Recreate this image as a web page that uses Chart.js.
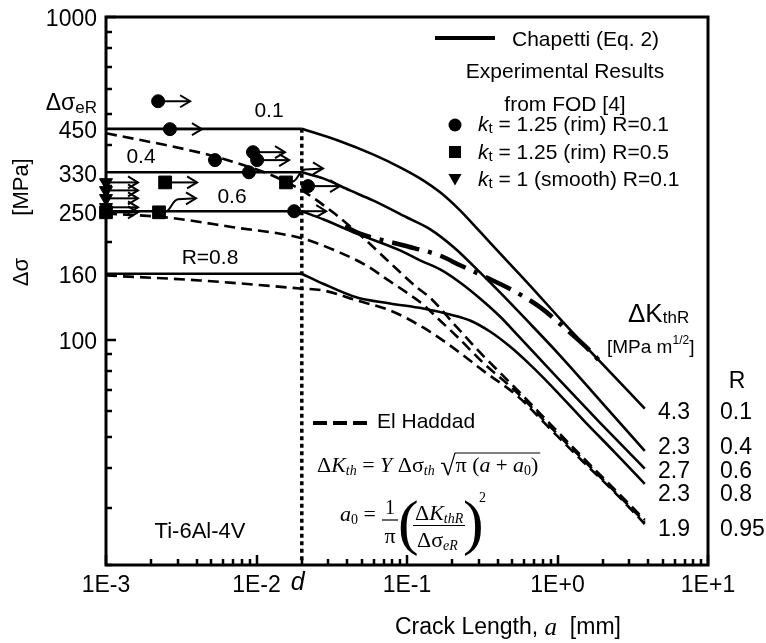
<!DOCTYPE html>
<html>
<head>
<meta charset="utf-8">
<title>Ti-6Al-4V threshold stress vs crack length</title>
<script src="https://cdn.jsdelivr.net/npm/chart.js@4.4.1/dist/chart.umd.min.js"></script>
<style>
html,body{margin:0;padding:0;background:#ffffff;}
#box{position:relative;width:766px;height:643px;}
canvas{display:block;}
</style>
</head>
<body>
<div id="box"><canvas id="chart" width="766" height="643"></canvas></div>
<script>
// ---------------- axes ----------------
const xMin = 0.001, xMax = 10;
const yMin = 20, yMax = 1000;
const xTickValues = [0.001, 0.01, 0.1, 1, 10];
const xTickLabels = ['1E-3', '1E-2', '1E-1', '1E+0', '1E+1'];
const dValue = 0.02;
const dLabel = 'd';
const yTickValues = [1000, 450, 330, 250, 160, 100];
const yTickLabels = ['1000', '450', '330', '250', '160', '100'];
const yEndurancePos = 540;      // where the ΔσeR label sits on the stress axis

// ---------------- Chapetti (Eq. 2), solid ----------------
const chapettiR01 = [[0.001,450],[0.02,450],[0.0359,412],[0.0594,375],[0.0899,342],[0.122,316],[0.166,286],[0.225,251.5],[0.3055,216],[0.415,185],[0.657,147],[1.04,116],[1.92,85.4],[3.8,61.1]];
const chapettiR04 = [[0.001,330],[0.02,330],[0.0277,316],[0.0418,290],[0.0594,270],[0.1,239],[0.142,220],[0.208,192],[0.3055,161.5],[0.415,140],[0.627,114.6],[1.04,89.2],[1.92,64.7],[3.8,45.2]];
const chapettiR06 = [[0.001,250],[0.02,250],[0.0277,236],[0.0465,213],[0.0899,189],[0.122,176],[0.166,165],[0.225,150.3],[0.3055,134.1],[0.415,117.9],[0.563,101.4],[1.04,74.6],[1.92,55.2],[3.8,39.8]];
const chapettiR08 = [[0.001,160],[0.02,160],[0.0277,149],[0.0465,135],[0.0771,129.4],[0.128,124.8],[0.193,119.6],[0.2622,114.6],[0.356,105.9],[0.4835,95.1],[0.657,83.6],[0.892,72.5],[1.48,56.4],[2.41,44.6],[3.8,35.7]];

// ---------------- El Haddad, dashed ----------------
const elHaddadR01 = [[0.001,436],[0.00254,400],[0.00491,373],[0.00777,350],[0.0117,328],[0.02,290],[0.0322,248],[0.051,207],[0.0771,173],[0.1165,145],[0.142,135],[0.215,109],[0.32,89.2],[0.538,69.9],[0.892,54.8],[1.48,43.0],[2.49,33.7],[3.8,27.6]];
const elHaddadR06 = [[0.001,246],[0.00254,239],[0.00698,223],[0.02,206],[0.0359,186],[0.0551,168.5],[0.0736,153.6],[0.097,141],[0.1277,128.5],[0.1657,114.6],[0.2149,102.2],[0.32,84.8],[0.538,68.5],[0.892,53.7],[1.48,42.4],[2.49,33.2],[3.8,27.2]];
const elHaddadR08 = [[0.001,158],[0.00421,152.5],[0.0195,144],[0.0277,142],[0.0465,132.2],[0.0771,123.1],[0.128,109],[0.215,92.4],[0.32,80.1],[0.538,67.0],[0.892,52.9],[1.48,41.8],[2.49,33.0],[3.8,26.8]];

// ---------------- dash-dot curve ----------------
const dashDotLine = [[0.0387,224],[0.0487,213],[0.094,196],[0.166,182],[0.225,170],[0.335,156],[0.506,142],[0.765,126],[1.07,110.5],[1.64,92.4],[1.92,85.4]];

// ---------------- d marker line ----------------
const dLine = [[0.02,450],[0.02,20]];

// ---------------- experimental results (run-outs) ----------------
const circlePts   = [[0.00222,548],[0.00266,449],[0.0053,360],[0.00948,381],[0.0101,360],[0.00891,330],[0.022,299],[0.0178,250]];
const circleArrow = [1,1,0,1,1,0,1,1];
const squarePts   = [[0.00247,307],[0.00225,248],[0.0157,307],[0.001,248]];
const squareArrow = [1,2,2,1];
const trianglePts = [[0.001,307],[0.001,290],[0.001,274],[0.001,257]];
const triangleArrow = [1,1,1,1];

// ---------------- labels ----------------
const curveLabels = ['0.1','0.4','0.6','R=0.8'];
const deltaKthR = ['4.3','2.3','2.7','2.3','1.9'];
const rValues = ['0.1','0.4','0.6','0.8','0.95'];

// ====================================================
const SANS = '"Liberation Sans", Arial, Helvetica, sans-serif';
const SERIF = '"Liberation Serif", "Times New Roman", serif';
const fs = (s, st) => (st ? st + ' ' : '') + s + 'px ' + SANS;
const fr = (s, st) => (st ? st + ' ' : '') + s + 'px ' + SERIF;
const BLACK = '#000000';
const pts = arr => arr.map(p => ({x: p[0], y: p[1]}));

function lineDs(label, arr, opts) {
  return Object.assign({
    label, data: pts(arr), showLine: true, borderColor: BLACK, borderWidth: 2.6,
    pointRadius: 0, pointHoverRadius: 0, fill: false, tension: 0,
    cubicInterpolationMode: 'monotone', borderCapStyle: 'butt'
  }, opts || {});
}
// Chapetti curves: flat plateau up to d (straight), then a smooth decay starting with a kink at d
function chapettiDs(label, arr) {
  return [
    lineDs(label + ' plateau', arr.slice(0, 2), {cubicInterpolationMode: 'default'}),
    lineDs(label, arr.slice(1))
  ];
}
function markDs(label, arr, style, radius, rot) {
  return {
    label, data: pts(arr), showLine: false, pointStyle: style, pointRadius: radius,
    pointHoverRadius: radius, pointRotation: rot || 0, pointBackgroundColor: BLACK,
    pointBorderColor: BLACK, pointBorderWidth: 1, clip: false
  };
}

function partsWidth(ctx, parts) {
  let w = 0;
  for (const p of parts) { ctx.font = p.f; w += ctx.measureText(p.t).width; }
  return w;
}
function drawParts(ctx, x, y, parts, align) {
  const w = partsWidth(ctx, parts);
  let cx = align === 'center' ? x - w / 2 : (align === 'right' ? x - w : x);
  ctx.textAlign = 'left';
  for (const p of parts) {
    ctx.font = p.f;
    ctx.fillText(p.t, cx, y + (p.dy || 0));
    cx += ctx.measureText(p.t).width;
  }
  return cx;
}
function arrowHead(ctx, x, y) {
  ctx.beginPath();
  ctx.moveTo(x - 10, y - 6); ctx.lineTo(x, y); ctx.lineTo(x - 10, y + 6);
  ctx.stroke();
}
function drawArrow(ctx, x, y, type) {
  if (!type) return;
  ctx.beginPath();
  if (type === 1) {
    ctx.moveTo(x + 3, y); ctx.lineTo(x + 32, y); ctx.stroke();
    arrowHead(ctx, x + 32, y);
  } else {
    ctx.moveTo(x + 3, y); ctx.lineTo(x + 7, y - 1);
    ctx.bezierCurveTo(x + 12, y - 2, x + 13, y - 12, x + 19, y - 13);
    ctx.lineTo(x + 37, y - 14); ctx.stroke();
    arrowHead(ctx, x + 37, y - 14);
  }
}

const decor = {
  id: 'decor',
  afterDatasetsDraw(chart) {
    const ctx = chart.ctx, A = chart.chartArea;
    const xs = chart.scales.x, ys = chart.scales.y;
    ctx.save();
    ctx.strokeStyle = BLACK; ctx.fillStyle = BLACK;
    ctx.lineCap = 'butt'; ctx.lineJoin = 'miter';

    // run-out arrows attached to markers
    ctx.lineWidth = 2;
    const arrowSets = [circleArrow, squareArrow, triangleArrow];
    arrowSets.forEach((types, i) => {
      const meta = chart.getDatasetMeta(i);
      meta.data.forEach((el, j) => drawArrow(ctx, el.x, el.y, types[j]));
    });

    // frame
    ctx.lineWidth = 3;
    ctx.strokeRect(A.left, A.top, A.right - A.left, A.bottom - A.top);

    // ticks (inside)
    ctx.lineWidth = 2.5;
    ctx.beginPath();
    for (let e = -3; e <= 1; e++) {
      for (let k = 1; k <= 9; k++) {
        const v = k * Math.pow(10, e);
        if (v < xMin * 0.999 || v > xMax * 1.001) continue;
        const px = Math.round(xs.getPixelForValue(v));
        const len = k === 1 ? 10 : 6;
        ctx.moveTo(px, A.bottom); ctx.lineTo(px, A.bottom - len);
      }
    }
    for (let e = 1; e <= 3; e++) {
      for (let k = 1; k <= 9; k++) {
        const v = k * Math.pow(10, e);
        if (v < yMin * 0.999 || v > yMax * 1.001) continue;
        const py = Math.round(ys.getPixelForValue(v));
        const len = k === 1 ? 10 : 6;
        ctx.moveTo(A.left, py); ctx.lineTo(A.left + len, py);
      }
    }
    ctx.stroke();

    // x tick labels
    ctx.textBaseline = 'middle';
    ctx.textAlign = 'center';
    ctx.font = fs(23);
    xTickValues.forEach((v, i) => ctx.fillText(xTickLabels[i], xs.getPixelForValue(v), A.bottom + 21));
    ctx.font = fs(25, 'italic');
    ctx.fillText(dLabel, xs.getPixelForValue(dValue) - 4, A.bottom + 18);

    // y tick labels
    ctx.textAlign = 'right';
    ctx.font = fs(23);
    yTickValues.forEach((v, i) => ctx.fillText(yTickLabels[i], A.left - 9, ys.getPixelForValue(v) + 3));
    drawParts(ctx, A.left - 9, ys.getPixelForValue(yEndurancePos), [
      {t: 'Δσ', f: fs(23)}, {t: 'eR', f: fs(17), dy: 5}
    ], 'right');

    // y title (rotated)
    ctx.save();
    ctx.translate(22, 230);
    ctx.rotate(-Math.PI / 2);
    ctx.textAlign = 'center';
    ctx.font = fs(22);
    ctx.fillText('Δσ', -42, 0);
    ctx.fillText('[MPa]', 43, 0);
    ctx.restore();

    // x title
    drawParts(ctx, 395, A.bottom + 63, [
      {t: 'Crack Length, ', f: fs(23)}, {t: 'a', f: fr(25, 'italic')}, {t: '  [mm]', f: fs(23)}
    ], 'left');

    // curve labels
    ctx.textAlign = 'center';
    ctx.font = fs(21);
    ctx.fillText(curveLabels[0], 269, 111);
    ctx.fillText(curveLabels[1], 141, 157);
    ctx.fillText(curveLabels[2], 232, 197);
    ctx.fillText(curveLabels[3], 210, 258);
    ctx.font = fs(22);
    ctx.fillText('Ti-6Al-4V', 200, 532);

    // legend (top right)
    ctx.lineWidth = 4;
    ctx.beginPath(); ctx.moveTo(435, 38); ctx.lineTo(495, 38); ctx.stroke();
    ctx.textAlign = 'left';
    ctx.font = fs(21);
    ctx.fillText('Chapetti (Eq. 2)', 512, 40);
    ctx.textAlign = 'center';
    ctx.fillText('Experimental Results', 565, 72);
    ctx.fillText('from FOD [4]', 565, 105);
    // legend markers
    ctx.beginPath(); ctx.arc(455, 125, 6.5, 0, Math.PI * 2); ctx.fill();
    ctx.fillRect(449, 146, 12, 12);
    ctx.beginPath(); ctx.moveTo(448.5, 174); ctx.lineTo(461.5, 174); ctx.lineTo(455, 185.5); ctx.closePath(); ctx.fill();
    const kt = [{t: 'k', f: fs(21, 'italic')}, {t: 't', f: fs(15), dy: 4}];
    drawParts(ctx, 478, 125, kt.concat([{t: ' = 1.25 (rim) R=0.1', f: fs(21)}]), 'left');
    drawParts(ctx, 478, 153, kt.concat([{t: ' = 1.25 (rim) R=0.5', f: fs(21)}]), 'left');
    drawParts(ctx, 478, 180, kt.concat([{t: ' = 1 (smooth) R=0.1', f: fs(21)}]), 'left');

    // El Haddad legend
    ctx.lineWidth = 4;
    ctx.beginPath();
    [313, 333, 353].forEach(x0 => { ctx.moveTo(x0, 423); ctx.lineTo(x0 + 14, 423); });
    ctx.stroke();
    ctx.textAlign = 'left';
    ctx.font = fs(21);
    ctx.fillText('El Haddad', 377, 422);

    // formula 1
    ctx.textBaseline = 'alphabetic';
    const b1 = 472;
    let xx = drawParts(ctx, 317, b1, [
      {t: 'Δ', f: fr(22)}, {t: 'K', f: fr(22, 'italic')}, {t: 'th', f: fr(14, 'italic'), dy: 3},
      {t: ' = ', f: fr(22)}, {t: 'Y', f: fr(22, 'italic')}, {t: ' Δσ', f: fr(22)},
      {t: 'th', f: fr(14, 'italic'), dy: 3}, {t: ' ', f: fr(22)}
    ], 'left');
    ctx.font = fr(28);
    const rad = ctx.measureText('√');
    ctx.fillText('√', xx, b1 + 3);
    const olY = b1 + 3 - rad.actualBoundingBoxAscent + 1;
    const olX = xx + rad.width - 1;
    const xe = drawParts(ctx, olX + 1, b1, [
      {t: 'π (', f: fr(22)}, {t: 'a', f: fr(22, 'italic')}, {t: ' + ', f: fr(21)},
      {t: 'a', f: fr(22, 'italic')}, {t: '0', f: fr(14), dy: 3}, {t: ')', f: fr(22)}
    ], 'left');
    ctx.lineWidth = 1.2;
    ctx.beginPath(); ctx.moveTo(olX, olY); ctx.lineTo(xe + 2, olY); ctx.stroke();

    // formula 2
    drawParts(ctx, 340, 521, [{t: 'a', f: fr(22, 'italic')}, {t: '0', f: fr(14), dy: 3}, {t: ' =', f: fr(22)}], 'left');
    ctx.textAlign = 'center';
    ctx.font = fr(20); ctx.fillText('1', 390, 514);
    ctx.font = fr(22); ctx.fillText('π', 390, 543);
    ctx.beginPath(); ctx.moveTo(382, 520); ctx.lineTo(398, 520); ctx.stroke();
    ctx.textAlign = 'left';
    ctx.font = fr(62); ctx.fillText('(', 398, 543);
    ctx.fillText(')', 463, 543);
    drawParts(ctx, 415, 520, [{t: 'Δ', f: fr(22)}, {t: 'K', f: fr(22, 'italic')}, {t: 'thR', f: fr(14, 'italic'), dy: 3}], 'left');
    ctx.beginPath(); ctx.moveTo(413, 525.5); ctx.lineTo(465, 525.5); ctx.stroke();
    drawParts(ctx, 417, 547, [{t: 'Δσ', f: fr(22)}, {t: 'eR', f: fr(14, 'italic'), dy: 3}], 'left');
    ctx.font = fr(14); ctx.fillText('2', 479, 502);

    // right-hand annotations
    drawParts(ctx, 628, 322, [{t: 'ΔK', f: fs(26)}, {t: 'thR', f: fs(17), dy: 1}], 'left');
    ctx.textBaseline = 'middle';
    drawParts(ctx, 607, 348, [{t: '[MPa m', f: fs(19)}, {t: '1/2', f: fs(12), dy: -7}, {t: ']', f: fs(19)}], 'left');
    ctx.textAlign = 'center';
    ctx.font = fs(23);
    ctx.fillText('R', 737, 382);
    const rowY = [413, 448, 472, 495, 530];
    ctx.textAlign = 'left';
    deltaKthR.forEach((t, i) => ctx.fillText(t, 658, rowY[i]));
    rValues.forEach((t, i) => ctx.fillText(t, 720, rowY[i]));

    ctx.restore();
  }
};

const dashed = {borderDash: [11, 6]};
new Chart(document.getElementById('chart'), {
  type: 'scatter',
  data: {
    datasets: [
      markDs('kt = 1.25 (rim) R=0.1', circlePts, 'circle', 6.5),
      markDs('kt = 1.25 (rim) R=0.5', squarePts, 'rect', 9),
      markDs('kt = 1 (smooth) R=0.1', trianglePts, 'triangle', 7.5, 180),
      ...chapettiDs('Chapetti R=0.1', chapettiR01),
      ...chapettiDs('Chapetti R=0.4', chapettiR04),
      ...chapettiDs('Chapetti R=0.6', chapettiR06),
      ...chapettiDs('Chapetti R=0.8', chapettiR08),
      lineDs('El Haddad R=0.1', elHaddadR01, dashed),
      lineDs('El Haddad R=0.6', elHaddadR06, dashed),
      lineDs('El Haddad R=0.8', elHaddadR08, dashed),
      lineDs('dash-dot', dashDotLine, {borderDash: [28, 9, 4, 9], borderWidth: 4.5}),
      lineDs('d', dLine, {borderDash: [4, 3.5], borderWidth: 3.5, cubicInterpolationMode: 'default'})
    ]
  },
  options: {
    responsive: false,
    devicePixelRatio: 1,
    animation: false,
    events: [],
    layout: {padding: {left: 106, right: 58, top: 17, bottom: 78}},
    plugins: {legend: {display: false}, tooltip: {enabled: false}},
    scales: {
      x: {type: 'logarithmic', min: xMin, max: xMax, display: false},
      y: {type: 'logarithmic', min: yMin, max: yMax, display: false}
    }
  },
  plugins: [decor]
});
</script>
</body>
</html>
